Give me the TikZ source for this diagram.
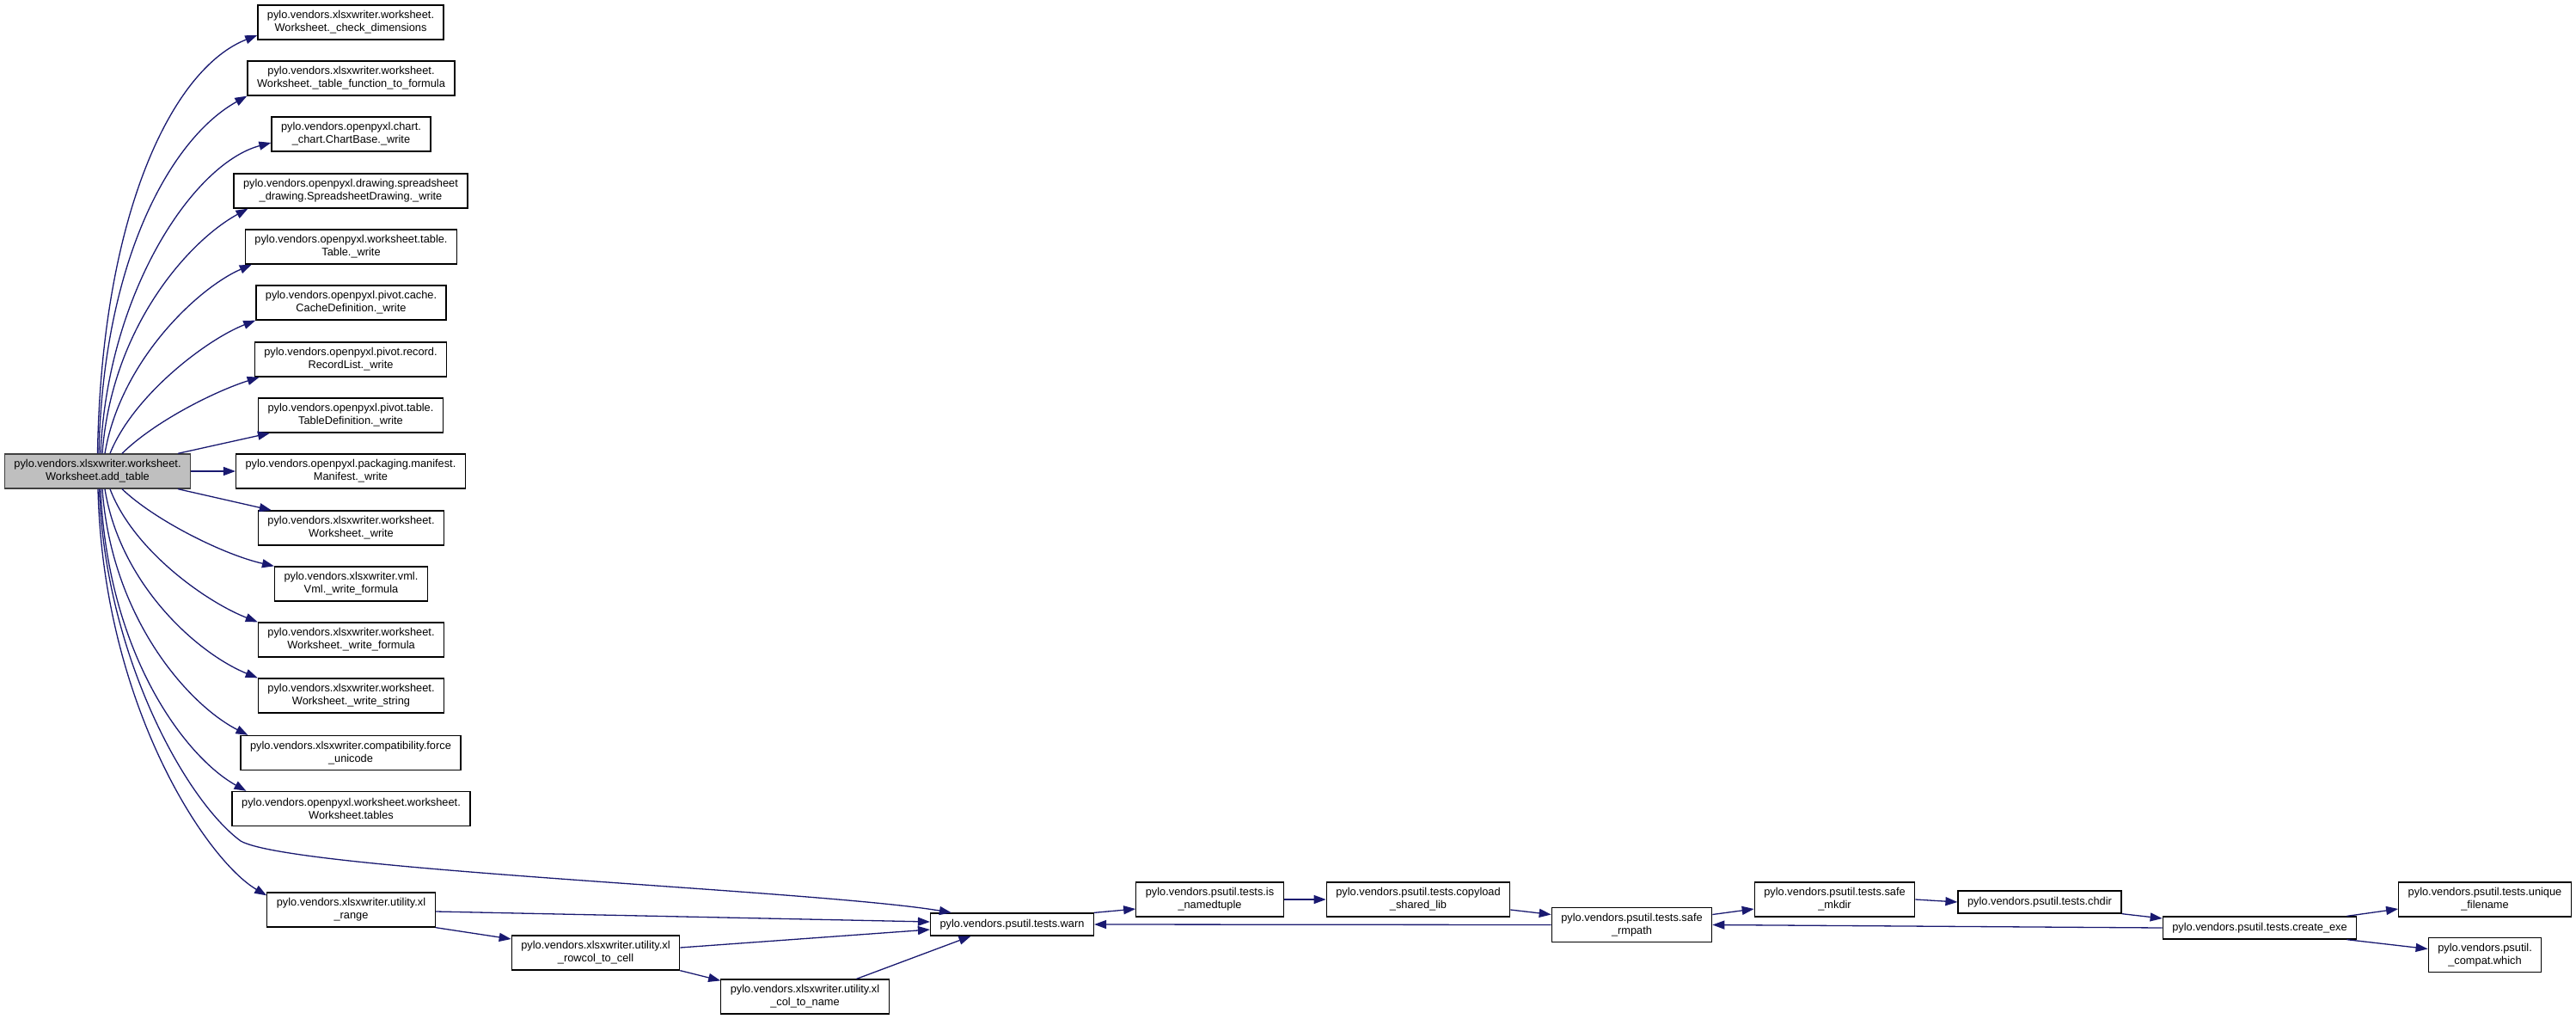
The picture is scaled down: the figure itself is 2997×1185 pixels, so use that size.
\documentclass[tikz,border=0pt]{standalone}
\usepackage{fontspec}
\setmainfont{Liberation Sans}
\usepackage{xcolor}
\usepackage{tikz}
\usetikzlibrary{arrows.meta}

\definecolor{callblue}{HTML}{191970}
\definecolor{curgray}{HTML}{BFBFBF}
\definecolor{curline}{HTML}{404040}

\begin{document}
\begin{tikzpicture}[
  x=1pt, y=-1pt,
  fn/.style={rectangle, draw=black, fill=white, line width=1.3pt, align=center,
    inner xsep=11pt, inner ysep=0pt, minimum height=40pt,
    font=\fontsize{12.8}{15}\selectfont},
  fn1/.style={fn, minimum height=26pt},
  cur/.style={fn, fill=curgray, draw=curline},
  call/.style={draw=callblue, line width=1.3pt, -{Triangle[length=14pt, width=10pt]}}
]
\useasboundingbox (0,0) rectangle (2997,1185);

\node[cur] (addtable) at (113.5,548) {pylo.vendors.xlsxwriter.worksheet.\\Worksheet.add\_table};
\node[fn] (chkdim) at (408,26) {pylo.vendors.xlsxwriter.worksheet.\\Worksheet.\_check\_dimensions};
\node[fn] (tblfunc) at (408.5,91) {pylo.vendors.xlsxwriter.worksheet.\\Worksheet.\_table\_function\_to\_formula};
\node[fn] (chartwrite) at (408.5,156) {pylo.vendors.openpyxl.chart.\\\_chart.ChartBase.\_write};
\node[fn] (drawwrite) at (408,222) {pylo.vendors.openpyxl.drawing.spreadsheet\\\_drawing.SpreadsheetDrawing.\_write};
\node[fn] (tablewrite) at (408.5,287) {pylo.vendors.openpyxl.worksheet.table.\\Table.\_write};
\node[fn] (cachewrite) at (408.5,352) {pylo.vendors.openpyxl.pivot.cache.\\CacheDefinition.\_write};
\node[fn] (recordwrite) at (408,418) {pylo.vendors.openpyxl.pivot.record.\\RecordList.\_write};
\node[fn] (tdefwrite) at (408,483) {pylo.vendors.openpyxl.pivot.table.\\TableDefinition.\_write};
\node[fn] (manifestwrite) at (408,548) {pylo.vendors.openpyxl.packaging.manifest.\\Manifest.\_write};
\node[fn] (wswrite) at (408.5,614) {pylo.vendors.xlsxwriter.worksheet.\\Worksheet.\_write};
\node[fn] (vmlformula) at (408.5,679) {pylo.vendors.xlsxwriter.vml.\\Vml.\_write\_formula};
\node[fn] (wsformula) at (408.5,744) {pylo.vendors.xlsxwriter.worksheet.\\Worksheet.\_write\_formula};
\node[fn] (wsstring) at (408.5,809) {pylo.vendors.xlsxwriter.worksheet.\\Worksheet.\_write\_string};
\node[fn] (forceuni) at (408,875.5) {pylo.vendors.xlsxwriter.compatibility.force\\\_unicode};
\node[fn] (wstables) at (408.5,940.5) {pylo.vendors.openpyxl.worksheet.worksheet.\\Worksheet.tables};
\node[fn] (xlrange) at (408.5,1058) {pylo.vendors.xlsxwriter.utility.xl\\\_range};
\node[fn] (rowcol) at (693,1108) {pylo.vendors.xlsxwriter.utility.xl\\\_rowcol\_to\_cell};
\node[fn] (colname) at (936.5,1159) {pylo.vendors.xlsxwriter.utility.xl\\\_col\_to\_name};
\node[fn1] (warn) at (1177.5,1075) {pylo.vendors.psutil.tests.warn};
\node[fn] (isnamed) at (1407.5,1046) {pylo.vendors.psutil.tests.is\\\_namedtuple};
\node[fn] (copyload) at (1650,1046) {pylo.vendors.psutil.tests.copyload\\\_shared\_lib};
\node[fn] (rmpath) at (1898.5,1075.5) {pylo.vendors.psutil.tests.safe\\\_rmpath};
\node[fn] (mkdir) at (2134.5,1046) {pylo.vendors.psutil.tests.safe\\\_mkdir};
\node[fn1] (chdir) at (2373,1049) {pylo.vendors.psutil.tests.chdir};
\node[fn1] (createexe) at (2629,1079) {pylo.vendors.psutil.tests.create\_exe};
\node[fn] (unique) at (2891,1046) {pylo.vendors.psutil.tests.unique\\\_filename};
\node[fn] (which) at (2891,1110.5) {pylo.vendors.psutil.\\\_compat.which};

\draw[call] (addtable.north) .. controls (118,250) and (200,80) .. ([yshift=-15pt]chkdim.west);
\draw[call] ([xshift=1.5pt]addtable.north) .. controls (120,300) and (200,160) .. (tblfunc.south west);
\draw[call] ([xshift=3.5pt]addtable.north) .. controls (125,340) and (225,190) .. ([yshift=-10pt]chartwrite.west);
\draw[call] ([xshift=5.5pt]addtable.north) .. controls (130,380) and (220,280) .. ([xshift=17pt]drawwrite.south west);
\draw[call] ([xshift=8.5pt]addtable.north) .. controls (140,420) and (230,335) .. ([xshift=8pt]tablewrite.south west);
\draw[call] ([xshift=14.5pt]addtable.north) .. controls (155,460) and (240,395) .. (cachewrite.south west);
\draw[call] ([xshift=28.5pt]addtable.north) .. controls (180,490) and (250,455) .. ([xshift=6pt]recordwrite.south west);
\draw[call] ([xshift=93.5pt]addtable.north) -- ([xshift=14pt]tdefwrite.south west);
\draw[call] (addtable) -- (manifestwrite);
\draw[call] ([xshift=93.5pt]addtable.south) -- ([xshift=16pt]wswrite.north west);
\draw[call] ([xshift=28.5pt]addtable.south) .. controls (180,605) and (260,645) .. (vmlformula.north west);
\draw[call] ([xshift=14.5pt]addtable.south) .. controls (155,640) and (240,700) .. (wsformula.north west);
\draw[call] ([xshift=8.5pt]addtable.south) .. controls (140,680) and (230,760) .. (wsstring.north west);
\draw[call] ([xshift=5.5pt]addtable.south) .. controls (130,720) and (220,820) .. ([xshift=9pt]forceuni.north west);
\draw[call] ([xshift=3.5pt]addtable.south) .. controls (125,760) and (215,880) .. ([xshift=17pt]wstables.north west);
\draw[call] ([xshift=2pt]addtable.south) .. controls (122,760) and (215,930) .. (280,978)
  .. controls (340,1012) and (950,1035) .. ([xshift=25pt]warn.north west);
\draw[call] ([xshift=0.5pt]addtable.south) .. controls (120,820) and (240,1000) .. ([yshift=-4pt]xlrange.north west);

\draw[call] ([yshift=-2pt]xlrange.east) -- ([yshift=3pt]warn.west);
\draw[call] (xlrange.south east) -- ([yshift=16pt]rowcol.west);
\draw[call] ([yshift=6pt]rowcol.east) -- ([yshift=-6pt]warn.west);
\draw[call] (rowcol.south east) -- ([yshift=-2pt]colname.north west);
\draw[call] ([xshift=60pt]colname.north) -- ([xshift=-48pt]warn.south);
\draw[call] (warn.north east) -- ([yshift=-11pt]isnamed.west);
\draw[call] (isnamed) -- (copyload);
\draw[call] ([yshift=-12pt]copyload.east) -- ([yshift=12pt]rmpath.west);
\draw[call] (rmpath.west) -- (warn.east);
\draw[call] ([yshift=12pt]rmpath.east) -- ([yshift=-11pt]mkdir.west);
\draw[call] (mkdir.east) -- (chdir.west);
\draw[call] (chdir.south east) -- ([yshift=11pt]createexe.west);
\draw[call] (createexe.west) -- (rmpath.east);
\draw[call] ([xshift=-12pt]createexe.north east) -- ([yshift=-11pt]unique.west);
\draw[call] ([xshift=-12pt]createexe.south east) -- ([yshift=7pt]which.west);
\end{tikzpicture}
\end{document}
